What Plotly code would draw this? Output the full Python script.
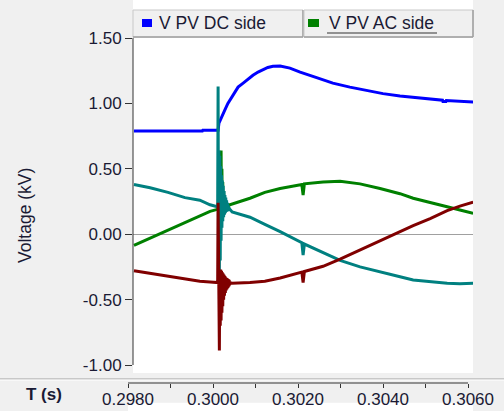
import plotly.graph_objects as go

# ---------------- data ----------------
# AC side phases: smooth part before the disturbance
t_pre = [0.29814, 0.29852, 0.29894, 0.29934, 0.29969, 0.29993, 0.30010]
teal_pre = [0.38, 0.355, 0.32, 0.28, 0.26, 0.225, 0.21]
green_pre = [-0.085, -0.03, 0.03, 0.09, 0.14, 0.175, 0.19]
red_pre = [-0.28, -0.30, -0.325, -0.345, -0.36, -0.365, -0.37]

# switching transient (fine time steps)
t_fault = [0.30011, 0.30012, 0.30013, 0.30014, 0.30015, 0.30016, 0.30017, 0.30018,
           0.30019, 0.30020, 0.30021, 0.30022, 0.30023, 0.30024, 0.30025, 0.30026,
           0.30027, 0.30028, 0.30029, 0.30030, 0.30031, 0.30032, 0.30033, 0.30034,
           0.30035, 0.30036, 0.30037, 0.30038, 0.30039, 0.30040]
teal_fault = [0.21, 1.13, -0.30, 0.64, -0.28, 0.60, -0.20, 0.52, -0.05, 0.45,
              0.05, 0.41, 0.10, 0.37, 0.13, 0.33, 0.15, 0.30, 0.16, 0.28,
              0.17, 0.26, 0.175, 0.24, 0.18, 0.22, 0.18, 0.205, 0.18, 0.19]
green_fault = [0.19, 0.20, 0.22, 0.10, 0.40, 0.05, 0.60, 0.10, 0.64, 0.12,
               0.50, 0.15, 0.40, 0.17, 0.33, 0.18, 0.29, 0.19, 0.26, 0.20,
               0.245, 0.205, 0.235, 0.21, 0.23, 0.215, 0.225, 0.22, 0.225, 0.225]
red_fault = [-0.37, 0.24, -0.52, -0.24, -0.89, -0.27, -0.70, -0.27, -0.66, -0.28,
             -0.60, -0.29, -0.55, -0.30, -0.50, -0.31, -0.47, -0.32, -0.45, -0.33,
             -0.43, -0.335, -0.42, -0.34, -0.41, -0.345, -0.40, -0.35, -0.39, -0.37]

# smooth part after the disturbance
t_post = [0.30045, 0.30087, 0.30122, 0.30158, 0.30209, 0.30212, 0.30215, 0.30259,
          0.30299, 0.30346, 0.30393, 0.30440, 0.30471, 0.30511, 0.30551, 0.30581, 0.30612]
teal_post = [0.17, 0.13, 0.075, 0.02, -0.065, -0.16, -0.075, -0.14,
             -0.20, -0.25, -0.29, -0.325, -0.35, -0.365, -0.375, -0.378, -0.375]
green_post = [0.23, 0.275, 0.32, 0.35, 0.38, 0.30, 0.385, 0.40,
              0.405, 0.385, 0.35, 0.31, 0.275, 0.24, 0.21, 0.185, 0.16]
red_post = [-0.375, -0.37, -0.36, -0.335, -0.29, -0.37, -0.285, -0.245,
            -0.19, -0.12, -0.045, 0.02, 0.065, 0.12, 0.18, 0.215, 0.245]

# DC side voltage
t_dc = [0.29814, 0.29850, 0.29880, 0.29881, 0.29920, 0.29950, 0.29951, 0.29975, 0.29976,
        0.30012, 0.30014, 0.30021, 0.30028, 0.30035, 0.30045, 0.30052, 0.30059, 0.30071,
        0.30082, 0.30094, 0.30106, 0.30118, 0.30129, 0.30141, 0.30158, 0.30181, 0.30205,
        0.30242, 0.30282, 0.30322, 0.30362, 0.30400, 0.30440, 0.30480, 0.30518, 0.30540,
        0.30541, 0.30548, 0.30549, 0.30581, 0.30612]
v_dc = [0.79, 0.79, 0.79, 0.785, 0.785, 0.785, 0.79, 0.79, 0.795,
        0.795, 0.85, 0.895, 0.95, 1.00, 1.05, 1.08, 1.125, 1.155,
        1.185, 1.215, 1.24, 1.26, 1.275, 1.285, 1.286, 1.27, 1.24,
        1.20, 1.155, 1.125, 1.10, 1.075, 1.057, 1.042, 1.033, 1.025,
        1.015, 1.015, 1.022, 1.018, 1.011]

y_tick_vals = [-1.0, -0.5, 0.0, 0.5, 1.0, 1.5]
y_tick_text = ["-1.00", "-0.50", "0.00", "0.50", "1.00", "1.50"]
x_tick_vals = [0.298, 0.300, 0.302, 0.304, 0.306]
x_tick_text = ["0.2980", "0.3000", "0.3020", "0.3040", "0.3060"]
x_minor_vals = [0.299, 0.301, 0.303, 0.305]
legend_labels = ["V PV DC side", "V PV AC side"]

# ---------------- layout helpers ----------------
W, H = 504, 411
def fx(x):
    return x / W
def fy(y):
    return 1 - y / H

FONT = "Liberation Sans, Arial, sans-serif"
TXT = "#1a1a34"
BLUE, GREEN, TEAL, RED = "#0000FF", "#008000", "#008080", "#800000"

t_ac = t_pre + t_fault + t_post
teal = teal_pre + teal_fault + teal_post
green = green_pre + green_fault + green_post
red = red_pre + red_fault + red_post

fig = go.Figure()
fig.add_trace(go.Scatter(x=t_dc, y=v_dc, mode="lines", line=dict(color=BLUE, width=3),
                         name=legend_labels[0], showlegend=False))
fig.add_trace(go.Scatter(x=t_ac, y=green, mode="lines", line=dict(color=GREEN, width=3),
                         name=legend_labels[1], showlegend=False))
fig.add_trace(go.Scatter(x=t_ac, y=teal, mode="lines", line=dict(color=TEAL, width=3),
                         showlegend=False))
fig.add_trace(go.Scatter(x=t_ac, y=red, mode="lines", line=dict(color=RED, width=3),
                         showlegend=False))
# carrier trace for the separate time axis strip
fig.add_trace(go.Scatter(x=[0.298], y=[0.5], xaxis="x2", yaxis="y2", mode="markers",
                         marker=dict(opacity=0), hoverinfo="skip", showlegend=False))

x0_data = 0.2980 + (133 - 128) / 42500.0
x1_data = 0.2980 + (473 - 128) / 42500.0

fig.update_layout(
    width=W, height=H, autosize=False,
    margin=dict(l=0, r=0, t=0, b=0, pad=0, autoexpand=False),
    paper_bgcolor="#F0F0F0", plot_bgcolor="#FFFFFF",
    font=dict(family=FONT, size=17, color=TXT),
    xaxis=dict(domain=[fx(133), fx(473)], range=[x0_data, x1_data], visible=False,
               anchor="y", automargin=False),
    yaxis=dict(domain=[fy(373), fy(38)], range=[-1.0612, 1.5005], anchor="x",
               automargin=False,
               tickvals=y_tick_vals, ticktext=y_tick_text, ticks="outside", ticklen=7,
               tickcolor="#333333", tickwidth=1, showgrid=False, showline=False,
               zeroline=True, zerolinecolor="#A0A0A0", zerolinewidth=1,
               tickfont=dict(family=FONT, size=17, color=TXT)),
    xaxis2=dict(domain=[fx(128), fx(473)], range=[0.2980, x1_data], anchor="free",
                automargin=False,
                position=fy(383), tickvals=x_tick_vals, ticktext=x_tick_text,
                ticks="outside", ticklen=4, tickcolor="#333333", showgrid=False,
                zeroline=False, showline=False, ticklabelstandoff=-3,
                minor=dict(tickvals=x_minor_vals, ticks="outside", ticklen=4,
                           tickcolor="#333333", showgrid=False),
                tickfont=dict(family=FONT, size=17, color=TXT)),
    yaxis2=dict(domain=[0, 0.02], range=[0, 1], anchor="x2", visible=False,
                automargin=False),
    showlegend=False,
)

shapes = []
# white strip above the legend
shapes.append(dict(type="rect", xref="paper", yref="paper", x0=fx(133), x1=fx(473),
                   y0=fy(10), y1=fy(0), fillcolor="#FFFFFF", line=dict(width=0), layer="below"))
# legend boxes
for (a, b) in [(133, 303), (304, 473)]:
    shapes.append(dict(type="rect", xref="paper", yref="paper", x0=fx(a), x1=fx(b),
                       y0=fy(37), y1=fy(10), fillcolor="#F0F0F0",
                       line=dict(color="#C8C8C8", width=1)))
    shapes.append(dict(type="line", xref="paper", yref="paper", x0=fx(b), x1=fx(b),
                       y0=fy(37), y1=fy(10), line=dict(color="#A0A0A0", width=1.5)))
    shapes.append(dict(type="line", xref="paper", yref="paper", x0=fx(a), x1=fx(b),
                       y0=fy(37), y1=fy(37), line=dict(color="#A0A0A0", width=1.5)))
# legend colour keys
shapes.append(dict(type="rect", xref="paper", yref="paper", x0=fx(142), x1=fx(152),
                   y0=fy(27), y1=fy(19), fillcolor=BLUE, line=dict(width=0)))
shapes.append(dict(type="rect", xref="paper", yref="paper", x0=fx(308), x1=fx(319),
                   y0=fy(27), y1=fy(19), fillcolor=GREEN, line=dict(width=0)))
# underline of the active legend item
shapes.append(dict(type="line", xref="paper", yref="paper", x0=fx(327), x1=fx(437),
                   y0=fy(33), y1=fy(33), line=dict(color="#333333", width=1)))
# y axis line
shapes.append(dict(type="line", xref="paper", yref="paper", x0=fx(133), x1=fx(133),
                   y0=fy(365), y1=fy(38), line=dict(color="#333333", width=1)))
# separator above the time strip
shapes.append(dict(type="line", xref="paper", yref="paper", x0=0, x1=1,
                   y0=fy(379), y1=fy(379), line=dict(color="#A0A0A0", width=1)))
shapes.append(dict(type="line", xref="paper", yref="paper", x0=0, x1=1,
                   y0=fy(380), y1=fy(380), line=dict(color="#FFFFFF", width=1)))
# time axis line
shapes.append(dict(type="line", xref="paper", yref="paper", x0=fx(128), x1=fx(468),
                   y0=fy(383), y1=fy(383), line=dict(color="#333333", width=1)))
fig.update_layout(shapes=shapes)

annotations = [
    dict(text=legend_labels[0], xref="paper", yref="paper", x=fx(157), y=fy(23.5),
         xanchor="left", yanchor="middle", showarrow=False,
         font=dict(family=FONT, size=17.5, color=TXT)),
    dict(text=legend_labels[1], xref="paper", yref="paper", x=fx(327), y=fy(23.5),
         xanchor="left", yanchor="middle", showarrow=False,
         font=dict(family=FONT, size=17.5, color=TXT)),
    dict(text="Voltage (kV)", xref="paper", yref="paper", x=fx(25), y=fy(216),
         xanchor="center", yanchor="middle", textangle=-90, showarrow=False,
         font=dict(family=FONT, size=17.5, color=TXT)),
    dict(text="<b>T (s)</b>", xref="paper", yref="paper", x=fx(44), y=fy(394),
         xanchor="center", yanchor="middle", showarrow=False,
         font=dict(family=FONT, size=17, color=TXT)),
]
fig.update_layout(annotations=annotations)

fig.write_html("out.html")
